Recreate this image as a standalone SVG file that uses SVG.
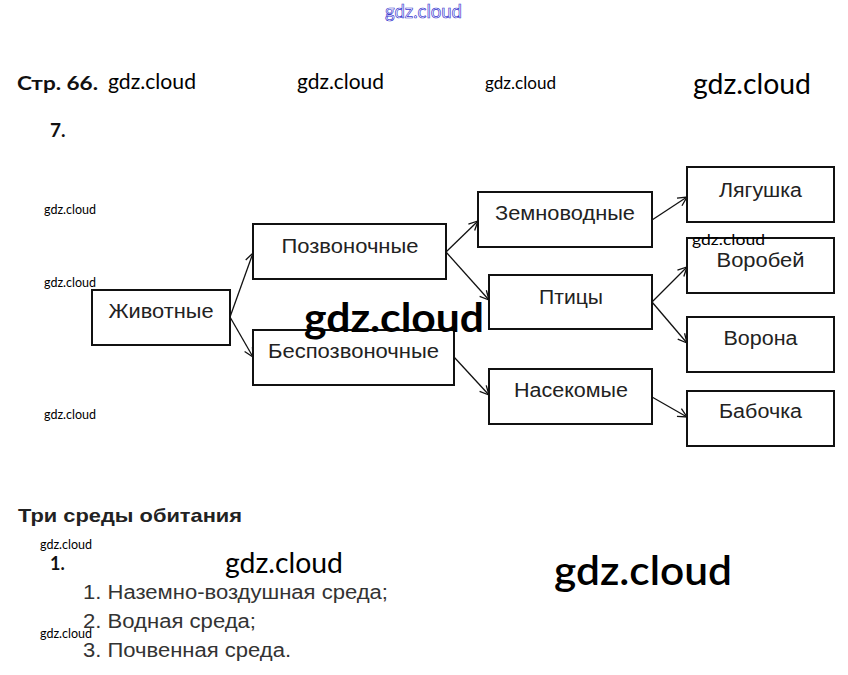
<svg xmlns="http://www.w3.org/2000/svg" width="848" height="675" viewBox="0 0 848 675">
<defs>
<marker id="arr" markerUnits="userSpaceOnUse" markerWidth="12" markerHeight="12" refX="10" refY="5" orient="auto" viewBox="0 0 12 10">
<path d="M1,0.5 L10,5 L1,9.5" fill="none" stroke="#111" stroke-width="1.3"/>
</marker>
<style>
.box{fill:#fff;stroke:#111;stroke-width:2}
.lbl{font-family:"Liberation Sans",Arial,sans-serif;font-size:20px;fill:#222;text-anchor:middle}
.wm{font-family:Lato,"Open Sans",sans-serif;fill:#000}
.hd{font-family:Lato,"Liberation Sans",sans-serif;font-weight:bold;fill:#111}
.ls{font-family:"Liberation Sans",Arial,sans-serif;font-size:20px;fill:#333}
.con line{stroke:#111;stroke-width:1.3;marker-end:url(#arr)}
</style>
</defs>
<rect width="848" height="675" fill="#fff"/>

<text x="385" y="18" font-family="Lato,sans-serif" font-size="19" fill="none" stroke="#3a3ad0" stroke-width="0.7" textLength="77" lengthAdjust="spacingAndGlyphs">gdz.cloud</text>

<text class="hd" x="17" y="90" font-size="19" textLength="81" lengthAdjust="spacingAndGlyphs">Стр. 66.</text>
<text class="wm" x="108" y="89" font-size="21" textLength="88" lengthAdjust="spacingAndGlyphs">gdz.cloud</text>
<text class="wm" x="297" y="89" font-size="21" textLength="87" lengthAdjust="spacingAndGlyphs">gdz.cloud</text>
<text class="wm" x="485" y="89" font-size="17" textLength="71" lengthAdjust="spacingAndGlyphs">gdz.cloud</text>
<text class="wm" x="693" y="94" font-size="28" textLength="118" lengthAdjust="spacingAndGlyphs">gdz.cloud</text>
<text class="hd" x="50" y="137" font-size="19">7.</text>

<g class="con">
<line x1="230" y1="317" x2="253" y2="253"/>
<line x1="230" y1="317" x2="253" y2="357"/>
<line x1="446" y1="252" x2="478" y2="221"/>
<line x1="446" y1="252" x2="489" y2="300"/>
<line x1="454" y1="357" x2="489" y2="395"/>
<line x1="652" y1="220" x2="687" y2="197"/>
<line x1="652" y1="302" x2="687" y2="267"/>
<line x1="652" y1="302" x2="687" y2="343"/>
<line x1="652" y1="397" x2="687" y2="417"/>
</g>

<g id="n-zhivotnye"><rect class="box" x="92" y="290" width="138" height="55"/><text class="lbl" x="161" y="318" textLength="105" lengthAdjust="spacingAndGlyphs">Животные</text></g>
<g id="n-pozvonochnye"><rect class="box" x="253" y="224" width="193" height="55"/><text class="lbl" x="350" y="253" textLength="137" lengthAdjust="spacingAndGlyphs">Позвоночные</text></g>
<g id="n-bespozvonochnye"><rect class="box" x="253" y="330" width="201" height="55"/><text class="lbl" x="353.5" y="358" textLength="171" lengthAdjust="spacingAndGlyphs">Беспозвоночные</text></g>
<g id="n-zemnovodnye"><rect class="box" x="478" y="192" width="174" height="55"/><text class="lbl" x="565" y="220" textLength="140" lengthAdjust="spacingAndGlyphs">Земноводные</text></g>
<g id="n-ptitsy"><rect class="box" x="489" y="275" width="163" height="54"/><text class="lbl" x="571" y="304" textLength="64" lengthAdjust="spacingAndGlyphs">Птицы</text></g>
<g id="n-nasekomye"><rect class="box" x="489" y="369" width="163" height="55"/><text class="lbl" x="571" y="397" textLength="114" lengthAdjust="spacingAndGlyphs">Насекомые</text></g>
<g id="n-lyagushka"><rect class="box" x="687" y="167" width="147" height="55"/><text class="lbl" x="760.5" y="197" textLength="83" lengthAdjust="spacingAndGlyphs">Лягушка</text></g>
<g id="n-vorobey"><rect class="box" x="687" y="238" width="147" height="55"/><text class="lbl" x="760.5" y="267" textLength="88" lengthAdjust="spacingAndGlyphs">Воробей</text></g>
<g id="n-vorona"><rect class="box" x="687" y="317" width="147" height="55"/><text class="lbl" x="760.5" y="345" textLength="74" lengthAdjust="spacingAndGlyphs">Ворона</text></g>
<g id="n-babochka"><rect class="box" x="687" y="391" width="147" height="55"/><text class="lbl" x="760.5" y="418" textLength="83" lengthAdjust="spacingAndGlyphs">Бабочка</text></g>

<text class="wm" x="44" y="214" font-size="12.5" textLength="52" lengthAdjust="spacingAndGlyphs">gdz.cloud</text>
<text class="wm" x="44" y="287" font-size="12.5" textLength="52" lengthAdjust="spacingAndGlyphs">gdz.cloud</text>
<text class="wm" x="44" y="419" font-size="12.5" textLength="52" lengthAdjust="spacingAndGlyphs">gdz.cloud</text>
<text class="wm" x="692" y="245" font-size="16" textLength="73" lengthAdjust="spacingAndGlyphs">gdz.cloud</text>
<text class="wm" x="304" y="332" font-size="41" font-weight="bold" textLength="180" lengthAdjust="spacingAndGlyphs">gdz.cloud</text>

<text font-family="'Liberation Sans',Arial,sans-serif" font-weight="bold" font-size="19" fill="#222" x="18" y="522" textLength="224" lengthAdjust="spacingAndGlyphs">Три среды обитания</text>
<text class="wm" x="40" y="549" font-size="12.5" textLength="52" lengthAdjust="spacingAndGlyphs">gdz.cloud</text>
<text class="hd" x="50" y="570" font-size="18">1.</text>
<text class="wm" x="225" y="573" font-size="28" textLength="118" lengthAdjust="spacingAndGlyphs">gdz.cloud</text>
<text class="wm" x="554" y="585" font-size="41" font-weight="600" textLength="178" lengthAdjust="spacingAndGlyphs">gdz.cloud</text>
<text class="ls" x="83" y="599" textLength="305" lengthAdjust="spacingAndGlyphs">1. Наземно-воздушная среда;</text>
<text class="ls" x="83" y="628" textLength="173" lengthAdjust="spacingAndGlyphs">2. Водная среда;</text>
<text class="ls" x="83" y="657" textLength="208" lengthAdjust="spacingAndGlyphs">3. Почвенная среда.</text>
<text class="wm" x="40" y="638" font-size="12.5" textLength="52" lengthAdjust="spacingAndGlyphs">gdz.cloud</text>
</svg>
